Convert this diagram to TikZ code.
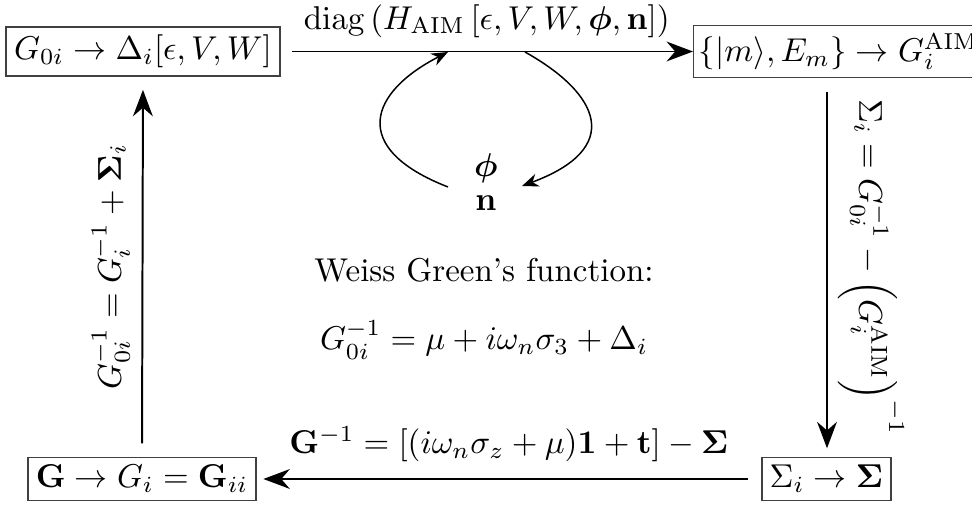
\documentclass[tikz,border=0pt]{standalone}
\usepackage{amsmath,bm}
\usetikzlibrary{arrows.meta}
\begin{document}
\begin{tikzpicture}[x=0.303pt,y=-0.303pt,
  box/.style={draw=black!75,line width=0.45pt,inner sep=2.4pt},
  main/.style={line width=0.6pt,-{Stealth[length=8pt,width=6pt]}},
  loop/.style={line width=0.45pt,-{Stealth[length=5pt,width=4pt]}},
  lbl/.style={inner sep=0pt}]
\useasboundingbox (0,0) rectangle (972,506);
\node[box] (b1) at (143,51.5) {$G_{0i}\to\Delta_i[\epsilon,V,W]$};
\node[box,anchor=west,inner xsep=1.5pt] (b2) at (693,51.5) {$\{|m\rangle,E_m\}\to G_i^{\mathrm{AIM}}$};
\node[box] (b3) at (826.5,479) {$\Sigma_i\to\bm{\Sigma}$};
\node[box] (b4) at (142,479) {$\mathbf{G}\to G_i=\mathbf{G}_{ii}$};
\draw[main,shorten <=3.5pt] (b1.east) -- (b2.west)
  node[lbl,midway,above=4pt] {$\mathrm{diag}\left(H_{\mathrm{AIM}}\left[\epsilon,V,W,\bm{\phi},\mathbf{n}\right]\right)$};
\draw[main,shorten <=4pt,shorten >=2.5pt] (b2.south -| 827,0) -- (b3.north -| 827,0)
  node[lbl,midway,rotate=-90,anchor=south,yshift=3pt] {$\Sigma_i=G_{0i}^{-1}-\Big(G_i^{\mathrm{AIM}}\Big)^{-1}$};
\draw[main,shorten <=4pt,shorten >=4pt] (b4.north) -- (b1.south)
  node[lbl,midway,rotate=90,anchor=south,yshift=3.5pt] {$G_{0i}^{-1}=G_i^{-1}+\bm{\Sigma}_i$};
\draw[main,shorten <=4pt,shorten >=2pt] (b3.west) -- (b4.east)
  node[lbl,midway,above=5pt] {$\mathbf{G}^{-1}=[(i\omega_n\sigma_z+\mu)\mathbf{1}+\mathbf{t}]-\bm{\Sigma}$};
\node[lbl] (phi) at (486,168) {$\bm{\phi}$};
\node[lbl] (n) at (486,203) {$\mathbf{n}$};
\coordinate (la) at (448,187);
\coordinate (lb) at (448,52);
\coordinate (ra) at (525,52);
\coordinate (rb) at (522,186);
\draw[loop] (la) .. controls (348,148) and (370,92) .. (lb);
\draw[loop] (ra) .. controls (600,94) and (624,148) .. (rb);
\node (w) at (484,270) {Weiss Green's function:};
\node (eq) at (484,340) {$G_{0i}^{-1}=\mu+i\omega_n\sigma_3+\Delta_i$};
\end{tikzpicture}
\end{document}
